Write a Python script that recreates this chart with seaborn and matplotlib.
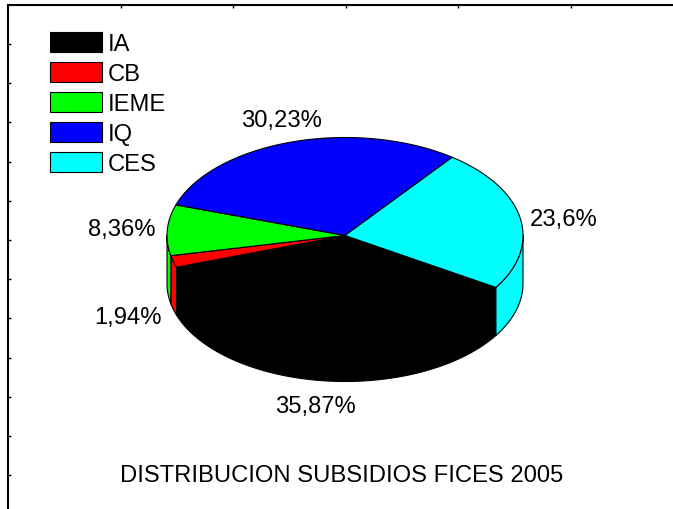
import numpy as np
import matplotlib
matplotlib.use("Agg")
import matplotlib.pyplot as plt
from matplotlib.patches import Polygon, Patch
import seaborn as sns

# --- data ---
categories = ["IA", "CB", "IEME", "IQ", "CES"]
shares = [35.87, 1.94, 8.36, 30.23, 23.6]
share_labels = ["35,87%", "1,94%", "8,36%", "30,23%", "23,6%"]
title_text = "DISTRIBUCION SUBSIDIOS FICES 2005"

# --- style ---
slice_colors = ["#000000", "#ff0000", "#00ff00", "#0000ff", "#00ffff"]
W, H = 673, 510
CX, CY, A, B, DEPTH = 345, 236.5, 178, 98, 48
START_DEG = -32          # first slice starts here and runs clockwise
FS = 17.1
FPX = FS * 100 / 72
label_pos = [(315.5, 407.5), (128.5, 317.5), (121.5, 229.5), (281.5, 120.5), (563.5, 219.5)]

sns.set_theme(style="white")
plt.rcParams["font.family"] = ["Liberation Sans", "DejaVu Sans"]

fig = plt.figure(figsize=(W / 100, H / 100), dpi=100, facecolor="white")
# frame: left and top edges visible, right and bottom run off the canvas
L, T, R, Bt = 7.5, 5.5, W + 20, H + 20
ax = fig.add_axes([L / W, 1 - Bt / H, (R - L) / W, (Bt - T) / H])
ax.set_xlim(L, R)
ax.set_ylim(Bt, T)
for s in ax.spines.values():
    s.set_linewidth(1.5)
    s.set_color("black")
ax.set_xticks(121 + 112.4 * np.arange(5))
ax.set_yticks(45 + 39.2 * np.arange(12))
ax.tick_params(direction="in", length=2.5, width=1, color="black",
               labelleft=False, labelbottom=False, top=True, bottom=False,
               left=True, right=False)


def pt(deg, drop=0.0):
    r = np.radians(deg)
    return np.column_stack([CX + A * np.cos(r), CY - B * np.sin(r) + drop])


# slice boundaries computed from the shares
sweep = np.array(shares) / sum(shares) * 360
ends = START_DEG - np.concatenate([[0], np.cumsum(sweep)])
starts = ends[:-1]
stops = ends[1:]

# side walls: only the front half (sin < 0) is visible
for a0, a1, c in zip(starts, stops, slice_colors):
    for lo, hi in ((-180, 0), (-540, -360)):
        u0, u1 = min(a0, hi), max(a1, lo)
        if u0 <= u1:
            continue
        ang = np.linspace(u0, u1, 120)
        poly = np.vstack([pt(ang), pt(ang[::-1], DEPTH)])
        ax.add_patch(Polygon(poly, closed=True, facecolor=c, edgecolor="black",
                             linewidth=0.8, joinstyle="round", zorder=2))

# top faces
for a0, a1, c in zip(starts, stops, slice_colors):
    ang = np.linspace(a0, a1, 240)
    poly = np.vstack([[CX, CY], pt(ang)])
    ax.add_patch(Polygon(poly, closed=True, facecolor=c, edgecolor="black",
                         linewidth=0.8, joinstyle="round", zorder=3))

for (x, y), s in zip(label_pos, share_labels):
    ax.text(x, y, s, fontsize=FS, color="black", ha="center", va="center")
ax.text(341.5, 475.5, title_text, fontsize=FS, color="black", ha="center", va="center")

handles = [Patch(facecolor=c, edgecolor="black", linewidth=0.8) for c in slice_colors]
leg = ax.legend(handles, categories, loc="upper left",
                bbox_to_anchor=(50 / W, 1 - 33 / H), bbox_transform=fig.transFigure,
                frameon=False, fontsize=FS, borderpad=0, borderaxespad=0,
                handlelength=52 / FPX, handleheight=0.918,
                handletextpad=6 / FPX, labelspacing=0.284, labelcolor="black")

fig.savefig("out.png", dpi=100, facecolor="white")
